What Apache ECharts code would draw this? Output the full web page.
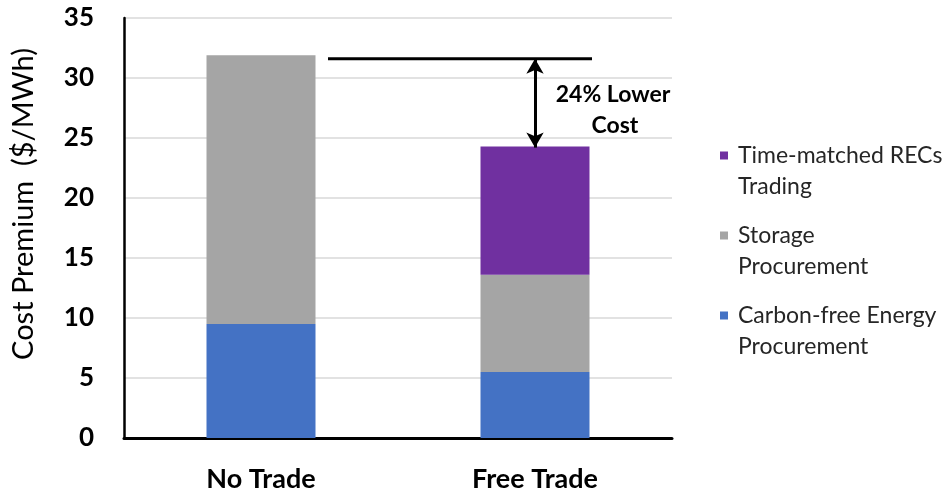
<!DOCTYPE html>
<html>
<head>
<meta charset="utf-8">
<script src="https://cdn.jsdelivr.net/npm/echarts@6/dist/echarts.min.js"></script>
<style>
html,body{margin:0;padding:0;background:#fff;}
#chart{width:949px;height:495px;}
</style>
</head>
<body>
<div id="chart"></div>
<script>
const categories = ['No Trade', 'Free Trade'];
const carbonFree = [9.5, 5.5];
const storage = [22.4, 8.1];
const recs = [0, 10.7];
const yTicks = [0, 5, 10, 15, 20, 25, 30, 35];
const annotationTop = 31.6;
const annotationBottom = 24.2;
const annotationText = ['24% Lower', 'Cost'];
const seriesNames = ['Carbon-free Energy\nProcurement', 'Storage\nProcurement', 'Time-matched RECs\nTrading'];

const FONT = 'Lato';
const chart = echarts.init(document.getElementById('chart'));
const colors = ['#4472c4', '#a5a5a5', '#7030a0'];
const LH = 31;
const iconPath = 'path://M0,0h0.01v0.01h-0.01z M0,11.5h8v8h-8z M0,61.99h0.01v0.01h-0.01z';

chart.setOption({
  animation: false,
  textStyle: {fontFamily: FONT},
  grid: {left: 124, right: 277, top: 18, bottom: 57, containLabel: false},
  legend: {
    orient: 'vertical',
    left: 715,
    top: 135,
    itemWidth: 8,
    itemHeight: 62,
    itemGap: 18,
    icon: iconPath,
    data: [seriesNames[2], seriesNames[1], seriesNames[0]],
    textStyle: {fontSize: 23, color: '#262626', lineHeight: LH, padding: [0, 0, 0, 5], fontFamily: FONT}
  },
  xAxis: {
    type: 'category',
    data: categories,
    axisLine: {lineStyle: {color: '#000', width: 3}},
    axisTick: {show: false},
    axisLabel: {fontSize: 27, fontWeight: 'bold', color: '#000', margin: 28, fontFamily: FONT}
  },
  yAxis: {
    type: 'value',
    min: yTicks[0],
    max: yTicks[yTicks.length - 1],
    interval: 5,
    name: 'Cost Premium  ($/MWh)',
    nameLocation: 'middle',
    nameGap: 86,
    nameTextStyle: {fontSize: 29, color: '#000', fontFamily: FONT, padding: [0, 0, 0, 48]},
    axisLine: {show: true, lineStyle: {color: '#000', width: 2.5}},
    axisTick: {show: false},
    axisLabel: {fontSize: 26, fontWeight: 'bold', color: '#000', margin: 30, fontFamily: FONT},
    splitLine: {lineStyle: {color: '#d9d9d9', width: 1.5}}
  },
  series: [
    {name: seriesNames[0], type: 'bar', stack: 'a', data: carbonFree, barWidth: 109, itemStyle: {color: colors[0]}},
    {name: seriesNames[1], type: 'bar', stack: 'a', data: storage, barWidth: 109, itemStyle: {color: colors[1]}},
    {name: seriesNames[2], type: 'bar', stack: 'a', data: recs, barWidth: 109, itemStyle: {color: colors[2]},
     markLine: {
       silent: true,
       symbol: ['arrow', 'arrow'],
       symbolSize: [13, 15],
       label: {show: false},
       lineStyle: {color: '#000', width: 3, type: 'solid'},
       data: [[{coord: [categories[1], annotationTop]}, {coord: [categories[1], annotationBottom]}]]
     }}
  ]
});

function drawAnnotation() {
  const pA = chart.convertToPixel({gridIndex: 0}, [categories[0], annotationTop]);
  const pB = chart.convertToPixel({gridIndex: 0}, [categories[1], annotationTop]);
  const pC = chart.convertToPixel({gridIndex: 0}, [categories[1], (annotationTop + annotationBottom) / 2]);
  chart.setOption({
    graphic: [
      {type: 'line', shape: {x1: pA[0] + 67, y1: pA[1], x2: pB[0] + 57, y2: pB[1]}, style: {stroke: '#000', lineWidth: 3}},
      {type: 'text', x: pC[0] + 78, y: pC[1] - 9, style: {text: annotationText[0], fontSize: 23, fontWeight: 'bold', fill: '#000', align: 'center', verticalAlign: 'middle', fontFamily: FONT}},
      {type: 'text', x: pC[0] + 80, y: pC[1] + 22, style: {text: annotationText[1], fontSize: 23, fontWeight: 'bold', fill: '#000', align: 'center', verticalAlign: 'middle', fontFamily: FONT}}
    ]
  });
}
drawAnnotation();
</script>
</body>
</html>
